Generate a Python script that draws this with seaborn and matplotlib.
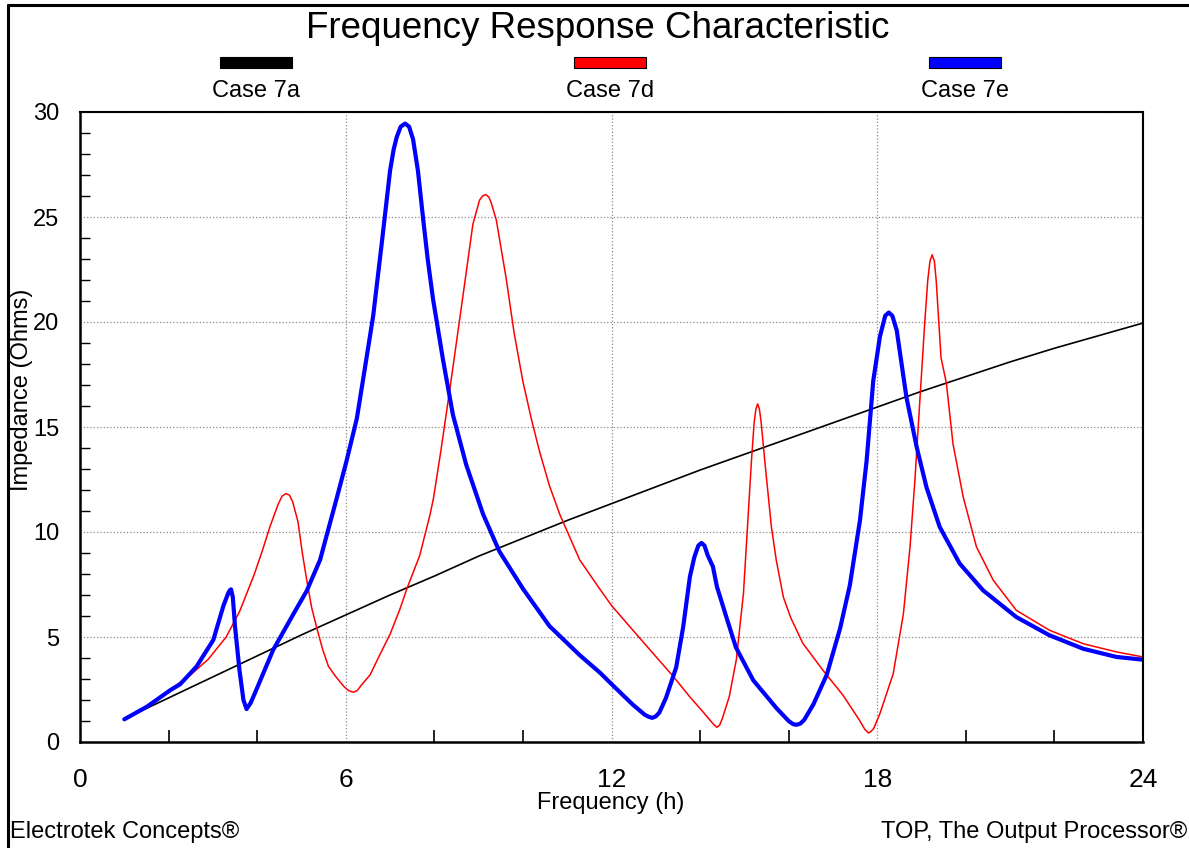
import numpy as np
import pandas as pd
import matplotlib
matplotlib.use('Agg')
import matplotlib.pyplot as plt
import seaborn as sns
from matplotlib.ticker import MultipleLocator
from matplotlib.patches import Rectangle
from matplotlib.lines import Line2D
from matplotlib import font_manager

# ------------------------ DATA ------------------------
case_7a_h = [1, 2, 3, 4, 5, 6, 7, 8, 9, 10, 11, 12, 13, 14, 15, 16, 17, 18, 19, 20, 21, 22, 23, 24]
case_7a_z = [1.1, 2.1, 3.1, 4.1, 5.1, 6.05, 7.0, 7.9, 8.85, 9.7, 10.55, 11.35, 12.15, 12.95,
             13.7, 14.45, 15.2, 15.95, 16.7, 17.4, 18.1, 18.75, 19.35, 19.95]

case_7d_h = [1.0, 1.5, 2.0, 2.5, 2.9, 3.3, 3.6, 3.92, 4.1, 4.29, 4.47, 4.56, 4.65, 4.73, 4.8, 4.92,
             5.02, 5.12, 5.23, 5.35, 5.48, 5.61, 5.78, 5.95, 6.06, 6.17, 6.26, 6.35, 6.55, 6.78,
             7.0, 7.22, 7.38, 7.67, 7.9, 7.98, 8.15, 8.35, 8.61, 8.87, 9.02, 9.09, 9.16, 9.23,
             9.28, 9.4, 9.62, 9.8, 10.0, 10.2, 10.38, 10.6, 10.83, 11.28, 11.73, 12.0, 12.48,
             12.93, 13.38, 13.76, 14.06, 14.2, 14.3, 14.38, 14.44, 14.5, 14.66, 14.82, 14.98,
             15.07, 15.16, 15.22, 15.26, 15.3, 15.34, 15.38, 15.46, 15.61, 15.72, 15.88, 16.05,
             16.32, 16.78, 17.23, 17.6, 17.72, 17.8, 17.86, 17.92, 18.06, 18.36, 18.59, 18.74,
             18.85, 18.96, 19.07, 19.14, 19.19, 19.24, 19.29, 19.33, 19.44, 19.56, 19.71, 19.94,
             20.24, 20.62, 21.14, 21.89, 22.65, 23.4, 24.0]
case_7d_z = [1.1, 1.68, 2.45, 3.2, 3.95, 5.0, 6.2, 7.9, 9.0, 10.26, 11.3, 11.7, 11.83, 11.75, 11.45,
             10.5, 9.0, 7.7, 6.4, 5.4, 4.4, 3.6, 3.1, 2.66, 2.45, 2.37, 2.45, 2.7, 3.2, 4.2,
             5.13, 6.31, 7.3, 8.88, 10.8, 11.6, 13.9, 16.8, 20.7, 24.65, 25.8, 26.0, 26.07, 25.95,
             25.7, 24.85, 22.1, 19.5, 17.16, 15.3, 13.8, 12.2, 10.85, 8.68, 7.3, 6.5, 5.33,
             4.24, 3.16, 2.17, 1.45, 1.1, 0.85, 0.7, 0.8, 1.1, 2.17, 3.94, 7.1,
             10.24, 13.4, 15.2, 15.85, 16.1, 15.85, 15.2, 13.4, 10.24, 8.66, 6.9, 5.9,
             4.7, 3.4, 2.22, 1.03, 0.6, 0.43, 0.5, 0.65, 1.35, 3.25, 6.1, 9.29,
             12.46, 16.2, 19.9, 21.98, 22.9, 23.2, 22.9, 22.0, 18.3, 17.1, 14.2, 11.67,
             9.29, 7.7, 6.27, 5.32, 4.68, 4.29, 4.05]

case_7e_h = [1.0, 1.51, 2.04, 2.26, 2.63, 3.01, 3.24, 3.34, 3.38, 3.41, 3.45, 3.5, 3.6, 3.69, 3.76,
             3.85, 3.95, 4.36, 4.82, 5.12, 5.42, 5.8, 6.02, 6.25, 6.47, 6.62, 6.81, 7.0, 7.08,
             7.15, 7.24, 7.34, 7.43, 7.52, 7.63, 7.74, 7.85, 7.97, 8.2, 8.42, 8.72, 9.1, 9.47,
             10.0, 10.6, 11.28, 11.74, 12.0, 12.48, 12.75, 12.84, 12.92, 13.0, 13.08, 13.23,
             13.46, 13.62, 13.77, 13.87, 13.96, 14.03, 14.1, 14.17, 14.29, 14.38, 14.59, 14.81,
             15.2, 15.73, 16.0, 16.1, 16.18, 16.26, 16.35, 16.56, 16.86, 17.16, 17.38, 17.61,
             17.76, 17.91, 18.06, 18.18, 18.26, 18.34, 18.44, 18.66, 18.89, 19.11, 19.41, 19.86,
             20.39, 21.14, 21.89, 22.65, 23.4, 24.0]
case_7e_z = [1.08, 1.68, 2.47, 2.75, 3.59, 4.86, 6.5, 7.05, 7.22, 7.27, 6.9, 5.5, 3.43, 2.0, 1.57,
             1.85, 2.33, 4.38, 6.1, 7.2, 8.67, 11.64, 13.4, 15.4, 18.3, 20.3, 23.7, 27.2, 28.2,
             28.8, 29.3, 29.45, 29.3, 28.7, 27.2, 25.05, 23.0, 21.1, 18.15, 15.58, 13.2, 10.85, 9.07,
             7.3, 5.52, 4.14, 3.3, 2.76, 1.78, 1.3, 1.2, 1.15, 1.22, 1.4, 2.1,
             3.55, 5.5, 7.87, 8.8, 9.35, 9.48, 9.35, 8.9, 8.35, 7.4, 5.97, 4.5,
             2.94, 1.6, 1.0, 0.85, 0.82, 0.87, 1.05, 1.8, 3.2, 5.4, 7.45, 10.56,
             13.4, 17.2, 19.3, 20.3, 20.45, 20.3, 19.6, 16.4, 14.05, 12.14, 10.24, 8.5,
             7.22, 5.95, 5.08, 4.44, 4.05, 3.92]

labels = ['Case 7a', 'Case 7d', 'Case 7e']
colors = ['black', 'red', 'blue']
widths = [1.2, 1.1, 3.0]

# ------------------------ STYLE ------------------------
sns.set_style('white')
names = {f.name for f in font_manager.fontManager.ttflist}
narrow = 'Liberation Sans Narrow' if 'Liberation Sans Narrow' in names else 'Liberation Sans'
plt.rcParams['font.family'] = [narrow, 'DejaVu Sans']
plt.rcParams['text.color'] = 'black'
plt.rcParams['xtick.color'] = 'black'
plt.rcParams['ytick.color'] = 'black'

W, H = 1189, 848
fig = plt.figure(figsize=(W / 100, H / 100), dpi=100)
ax = fig.add_axes([80 / W, 106 / H, 1063 / W, 630 / H])

series = [(case_7a_h, case_7a_z), (case_7d_h, case_7d_z), (case_7e_h, case_7e_z)]
for (hh, zz), lab, c, lw in zip(series, labels, colors, widths):
    df = pd.DataFrame({'h': hh, 'z': zz})
    sns.lineplot(data=df, x='h', y='z', color=c, linewidth=lw, ax=ax,
                 estimator=None, sort=False, legend=False,
                 solid_joinstyle='round', solid_capstyle='round')

ax.set_xlim(0, 24)
ax.set_ylim(0, 30)
ax.set_xlabel('')
ax.set_ylabel('')

ax.xaxis.set_major_locator(MultipleLocator(6))
ax.xaxis.set_minor_locator(MultipleLocator(2))
ax.yaxis.set_major_locator(MultipleLocator(5))
ax.yaxis.set_minor_locator(MultipleLocator(1))

ax.tick_params(axis='x', which='major', direction='out', length=9, width=1.2, pad=10,
               labelsize=19, labelcolor='black')
ax.tick_params(axis='y', which='major', direction='out', length=7, width=1.2, pad=8,
               labelsize=17, labelcolor='black')
ax.tick_params(axis='x', which='minor', direction='in', length=9, width=1.2, bottom=True)
ax.tick_params(axis='y', which='minor', direction='in', length=7, width=1.0, left=True)

ax.grid(True, which='major', color='#8a8a8a', linestyle=':', linewidth=0.9)
ax.set_axisbelow(True)

for side in ['left', 'bottom']:
    ax.spines[side].set_linewidth(1.8)
for side in ['top', 'right']:
    ax.spines[side].set_linewidth(1.5)
for s in ax.spines.values():
    s.set_color('black')

# outer frame (top and left visible)
fig.add_artist(Line2D([8 / W, 1], [1 - 5 / H, 1 - 5 / H], color='black', linewidth=2.2))
fig.add_artist(Line2D([8 / W, 8 / W], [0, 1 - 5 / H], color='black', linewidth=2.2))

# title
fig.text(598 / W, 1 - 28 / H, 'Frequency Response Characteristic', ha='center', va='center',
         fontsize=26.5)

# legend
bar_x = [220, 574, 929]
for x0, lab, c in zip(bar_x, labels, colors):
    fig.add_artist(Rectangle((x0 / W, 1 - 68 / H), 72 / W, 11 / H, facecolor=c,
                             edgecolor='black', linewidth=0.8, transform=fig.transFigure))
    fig.text((x0 + 36) / W, 1 - 91 / H, lab, ha='center', va='center', fontsize=17)

# axis labels
fig.text(611 / W, 1 - 803 / H, 'Frequency (h)', ha='center', va='center', fontsize=17)
fig.text(22 / W, 1 - 390 / H, 'Impedance (Ohms)', ha='center', va='center', rotation=90,
         fontsize=17)

# footer
fig.text(10 / W, 1 - 832 / H, 'Electrotek Concepts®', ha='left', va='center', fontsize=17)
fig.text(1187 / W, 1 - 832 / H, 'TOP, The Output Processor®', ha='right', va='center', fontsize=17)

fig.savefig('out.png', dpi=100)
